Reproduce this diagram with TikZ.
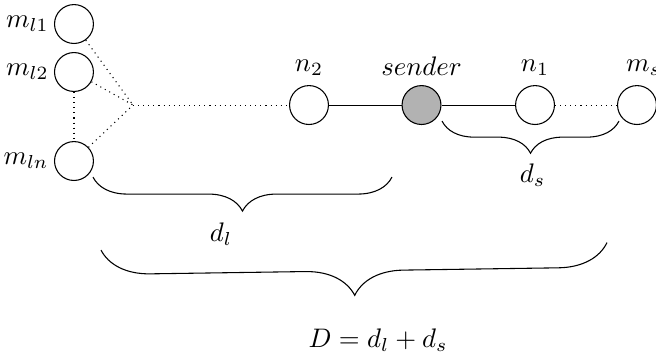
\documentclass[tikz,border=0pt]{standalone}
\usepackage{amsmath, amssymb}
\usepackage{tikz}
\usetikzlibrary{decorations.pathreplacing}
\usetikzlibrary{calc,positioning}

\tikzset{
  station/.style={draw, circle, inner sep=0pt, minimum size=5.1mm},
  dotlink/.style={dash pattern=on 0.4pt off 1.5pt},
  curly/.style={decorate, decoration={brace, amplitude=#1, mirror}},
}

\begin{document}
\begin{tikzpicture}
            \useasboundingbox (-5.526,-3.238) rectangle (3.074,1.377);
            % Draw the line of stations
            \node[station, fill=gray!60, label=above:{$sender$}] (sender) at (0, 0) {};
            \node[station, label=above:{$n_2$}] (n2) at (-1.475, 0) {};
            \node[station, label=above:{$n_1$}] (n1) at (1.488, 0) {};
            \node[station, label={[xshift=2.5pt]above:{$m_s$}}] (ms) at (2.825, 0) {};
            % Draw the stations on the left
            \node[station, label={[label distance=-1.5pt]left:{$m_{l1}$}}] (ml1) at (-4.556, 1.062) {};
            \node[station, label={[label distance=-1.5pt]left:{$m_{l2}$}}] (ml2) at (-4.556, 0.433) {};
            \node[station, label={[label distance=-1.5pt]left:{$m_{ln}$}}] (mln) at (-4.556, -0.734) {};
            \coordinate (J) at (-3.782, 0);
            % Draw the links
            \draw[dotlink] (ml1) -- (J);
            \draw[dotlink] (ml2) -- (J);
            \draw[dotlink] (mln) -- (J);
            \draw[dotlink] (ml2) -- (mln);
            \draw[dotlink] (J) -- (n2);
            \draw (n2) -- (sender) -- (n1);
            \draw[dotlink] (n1) -- (ms);
            % Define brace ends
            \coordinate (ds1) at (0.269, -0.210);
            \coordinate (ds2) at (2.589, -0.210);
            \coordinate (dl1) at (-4.307, -0.944);
            \coordinate (dl2) at (-0.387, -0.944);
            \coordinate (D1) at (-4.202, -1.901);
            \coordinate (D2) at (2.432, -1.803);
            % Draw the braces
            \draw[curly=12pt] (ds1) -- (ds2);
            \node (dslabel) at (1.455, -0.918) {$d_s$};
            \draw[curly=12.7pt] (dl1) -- (dl2);
            \node (dllabel) at (-2.629, -1.691) {$d_l$};
            \draw[curly=18.3pt] (D1) -- (D2);
            \node (Dlabel) at (-0.57, -3.08) {$D = d_l + d_s$};
          \end{tikzpicture}
\end{document}
